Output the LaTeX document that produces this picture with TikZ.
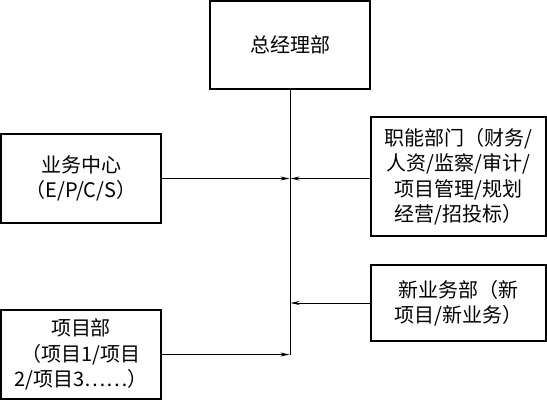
\documentclass[tikz,border=0pt]{standalone}
\usepackage{fontspec}
\setmainfont{Noto Sans CJK SC}
\usetikzlibrary{positioning,arrows.meta}

\begin{document}
\begin{tikzpicture}[x=1pt,y=-1pt,
	box/.style={draw,line width=1.3pt,align=center,inner sep=0pt,
		font=\fontsize{20}{25.5}\selectfont},
	tip/.style={-{Stealth[length=9pt,width=4pt]},line width=1pt}]
\useasboundingbox (0,0) rectangle (547,400);
\node[box,minimum width=160,minimum height=88] (zj) at (290,45) {总经理部};
\node[box,minimum width=160,minimum height=89] (yw) at (81,178.5) {业务中心\\（E/P/C/S）};
\node[box,minimum width=175,minimum height=119] (zn) at (458.5,176.5) {职能部门（财务/\\人资/监察/审计/\\项目管理/规划\\经营/招投标）};
\node[box,minimum width=175,minimum height=76] (xy) at (458.5,303) {新业务部（新\\项目/新业务）};
\node[box,minimum width=160,minimum height=89] (xm) at (81,354.5) {项目部\\（项目1/项目\\2/项目3……）};
% trunk
\coordinate (end) at (290,354.5);
\draw[line width=1pt] (zj) -- (end);
\foreach \n/\y in {yw/178.5,xm/354.5}
	\draw[tip] (\n.east |- 0,\y) -- (289.5,\y);
\foreach \n/\y in {zn/178.5,xy/303}
	\draw[tip] (\n.west |- 0,\y) -- (290.5,\y);
\end{tikzpicture}
\end{document}
